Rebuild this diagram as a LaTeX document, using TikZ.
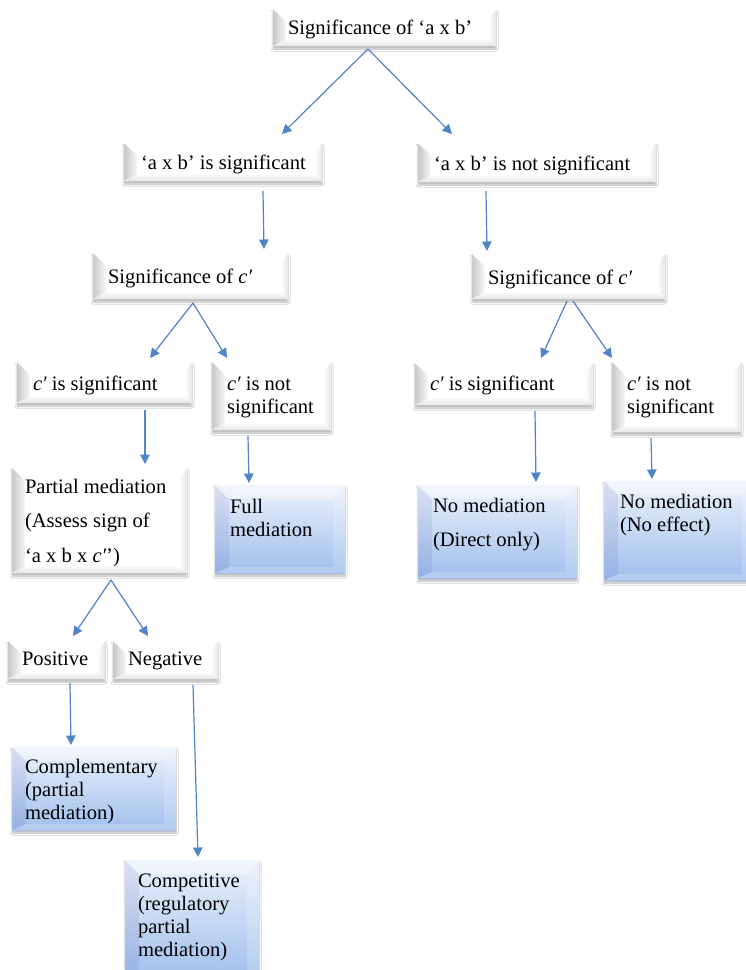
\documentclass[tikz,border=0pt]{standalone}
\usepackage{fontspec}
\setmainfont{Liberation Serif}
\usetikzlibrary{calc,arrows.meta,shadows.blur}

\definecolor{arrowblue}{RGB}{79,133,200}
\definecolor{bluetop}{RGB}{236,242,252}
\definecolor{bluebot}{RGB}{160,190,236}
\definecolor{bevdark}{RGB}{200,200,200}
\definecolor{bevmid}{RGB}{230,230,230}
\definecolor{bevlight}{RGB}{248,248,248}

\tikzset{
  bevelbase/.style={draw=none, inner sep=0pt, outer sep=0pt, anchor=north west,
    blur shadow={shadow xshift=0pt, shadow yshift=-3pt, shadow blur radius=2pt,
                 shadow opacity=28, shadow blur steps=6}},
  % white box with bevelled edges
  plainbox/.style={bevelbase, fill=white,
    path picture={
      \coordinate (@a) at (path picture bounding box.south west);
      \coordinate (@b) at (path picture bounding box.north east);
      \coordinate (@c) at ($(@a)+(13pt,6pt)$);
      \coordinate (@d) at ($(@b)+(-8pt,-12pt)$);
      \fill[left color=bevdark, right color=bevlight] (@a) -- (@a|-@b) -- (@c|-@d) -- (@c) -- cycle;
      \fill[white] (@a|-@b) -- (@b) -- (@d) -- (@c|-@d) -- cycle;
      \fill[left color=white, right color=bevmid] (@b) -- (@b|-@a) -- (@d|-@c) -- (@d) -- cycle;
      \fill[top color=bevlight, bottom color=bevmid] (@a) -- (@c) -- (@d|-@c) -- (@b|-@a) -- cycle;
    }},
  % blue gradient box with bevelled edges
  bluebox/.style={bevelbase, top color=bluetop, bottom color=bluebot,
    path picture={
      \coordinate (@a) at (path picture bounding box.south west);
      \coordinate (@b) at (path picture bounding box.north east);
      \coordinate (@c) at ($(@a)+(14pt,6pt)$);
      \coordinate (@d) at ($(@b)+(-12pt,-14pt)$);
      \fill[black!50!blue, fill opacity=0.07] (@a) -- (@a|-@b) -- (@c|-@d) -- (@c) -- cycle;
      \fill[white, fill opacity=0.35] (@a|-@b) -- (@b) -- (@d) -- (@c|-@d) -- cycle;
      \fill[white, fill opacity=0.18] (@b) -- (@b|-@a) -- (@d|-@c) -- (@d) -- cycle;
      \fill[white, fill opacity=0.2] (@a) -- (@c) -- (@d|-@c) -- (@b|-@a) -- cycle;
    }},
  lbl/.style={anchor=base west, inner sep=0pt, outer sep=0pt,
    font=\fontsize{20.6}{23}\selectfont},
  link/.style={draw=arrowblue, line width=1.2pt, -{Triangle[length=9.5pt,width=9.5pt]}}
}

% box: style, name, north-west x, y, width, height
\newcommand\mkbox[6]{\node[#1, minimum width=#5pt, minimum height=#6pt] (#2) at (#3,#4) {};}
% stacked text lines with a given line-spacing factor
\newcommand\stack[2]{{\renewcommand\arraystretch{#1}\begin{tabular}[t]{@{}l@{}}#2\end{tabular}}}
\newcommand\cp{{\itshape c′}}

\begin{document}
\begin{tikzpicture}[x=1pt, y=-1pt]
  \fill[white] (0,0) rectangle (746,970);
  \useasboundingbox (0,0) rectangle (746,970);

  % boxes
  \mkbox{plainbox}{top}{273}{9}{223}{37}
  \mkbox{plainbox}{sig}{124}{143}{198}{38}
  \mkbox{plainbox}{nsig}{418}{143}{238}{39}
  \mkbox{plainbox}{csigL}{93}{253}{195}{46}
  \mkbox{plainbox}{csigR}{472}{254}{193}{45}
  \mkbox{plainbox}{cyesL}{17}{362}{175}{41}
  \mkbox{plainbox}{cnoL}{212}{362}{119}{68}
  \mkbox{plainbox}{cyesR}{415}{363}{178}{42}
  \mkbox{plainbox}{cnoR}{612}{362}{129}{70}
  \mkbox{plainbox}{partial}{12}{468}{175}{105}
  \mkbox{bluebox}{full}{215}{485}{130}{88}
  \mkbox{bluebox}{direct}{418}{485}{159}{93}
  \mkbox{bluebox}{noeff}{604}{481}{150}{99}
  \mkbox{plainbox}{pos}{8}{641}{97}{38}
  \mkbox{plainbox}{neg}{113}{641}{105}{38}
  \mkbox{bluebox}{compl}{12}{747}{164}{83}
  \mkbox{bluebox}{compet}{125}{860}{134}{120}

  % labels
  \node[lbl] (topT) at (288,34) {Significance of ‘a x b’};
  \node[lbl] (sigT) at (141,169) {‘a x b’ is significant};
  \node[lbl] (nsigT) at (434,170) {‘a x b’ is not significant};
  \node[lbl] (csigLT) at (108,283) {Significance of \cp};
  \node[lbl] (csigRT) at (488,284) {Significance of \cp};
  \node[lbl] (cyesLT) at (33,390) {\cp\ is significant};
  \node[lbl] (cnoLT) at (227,390) {\stack{1}{\cp\ is not\\significant}};
  \node[lbl] (cyesRT) at (430,390) {\cp\ is significant};
  \node[lbl] (cnoRT) at (627,390) {\stack{1}{\cp\ is not\\significant}};
  \node[lbl] (partialT) at (25,493) {\stack{1.52}{Partial mediation\\(Assess sign of\\‘a x b x \cp’)}};
  \node[lbl] (fullT) at (230,513) {\stack{1}{Full\\mediation}};
  \node[lbl] (directT) at (433,512) {\stack{1.52}{No mediation\\(Direct only)}};
  \node[lbl] (noeffT) at (620,508) {\stack{1}{No mediation\\(No effect)}};
  \node[lbl] (posT) at (22,665) {Positive};
  \node[lbl] (negT) at (128,665) {Negative};
  \node[lbl] (complT) at (25,773) {\stack{1.02}{Complementary\\(partial\\mediation)}};
  \node[lbl] (competT) at (138,887) {\stack{1}{Competitive\\(regulatory\\partial\\mediation)}};

  % connectors
  \draw[link] ($(top.south west)+(95,3)$) -- ($(sig.north west)+(158,-9)$);
  \draw[link] ($(top.south west)+(95,3)$) -- ($(nsig.north west)+(34,-9)$);
  \draw[link] ($(sig.south west)+(139,10)$) -- ($(csigL.north west)+(171,-4)$);
  \draw[link] ($(nsig.south west)+(68,9)$) -- ($(csigR.north west)+(15,-3)$);
  \draw[link] ($(csigL.south west)+(100,4)$) -- ($(cyesL.north west)+(133,-4)$);
  \draw[link] ($(csigL.south west)+(100,4)$) -- ($(cnoL.north west)+(15,-4)$);
  \draw[link] ($(csigR.south west)+(95,2)$) -- ($(cyesR.north west)+(126,-5)$);
  \draw[link] ($(csigR.south west)+(101,2)$) -- ($(cnoR.north west)+(0,-4)$);
  \draw[link] ($(cyesL.south west)+(128,7)$) -- ($(partial.north west)+(133,-4)$);
  \draw[link] ($(cnoL.south west)+(36,6)$) -- ($(full.north west)+(34,-2)$);
  \draw[link] ($(cyesR.south west)+(120,6)$) -- ($(direct.north west)+(118,-3)$);
  \draw[link] ($(cnoR.south west)+(39,6)$) -- ($(noeff.north west)+(48,-2)$);
  \draw[link] ($(partial.south west)+(99,7)$) -- ($(pos.north west)+(65,-5)$);
  \draw[link] ($(partial.south west)+(99,7)$) -- ($(neg.north west)+(35,-5)$);
  \draw[link] ($(pos.south west)+(62,4)$) -- ($(compl.north west)+(59,-2)$);
  \draw[link] ($(neg.south west)+(80,6)$) -- ($(compet.north west)+(73,-3)$);
\end{tikzpicture}
\end{document}
